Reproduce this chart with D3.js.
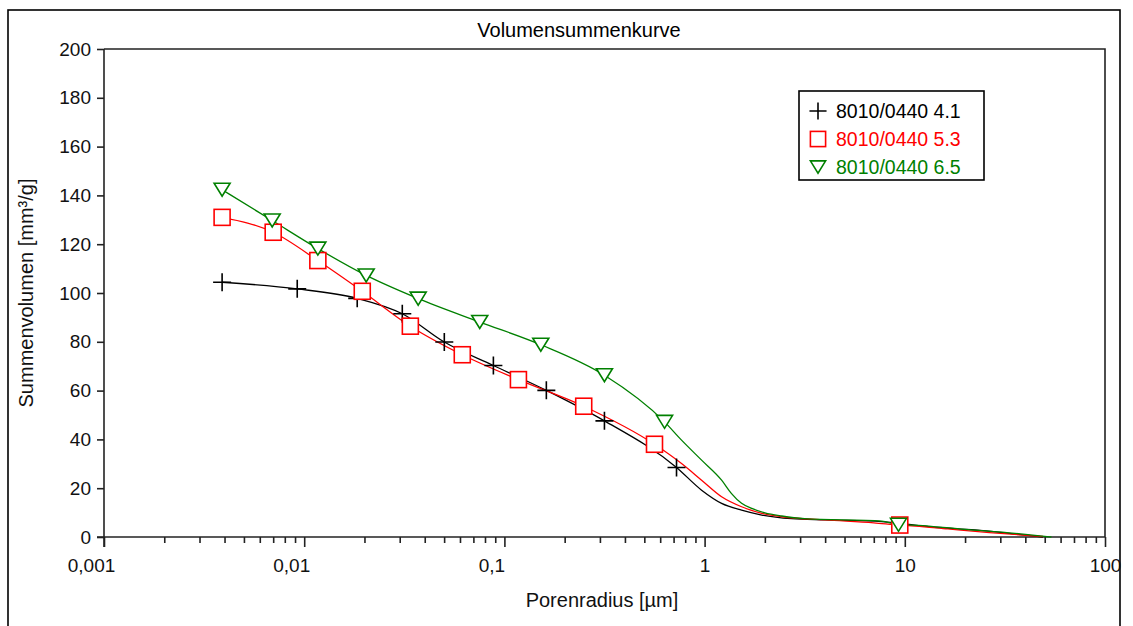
<!DOCTYPE html>
<html><head><meta charset="utf-8">
<script src="https://cdn.jsdelivr.net/npm/d3@7"></script>
<style>
body{margin:0;background:#fff}
svg{display:block}
text{font-family:Arial,"Liberation Sans",sans-serif}
</style>
</head><body>
<svg id="c" width="1133" height="626"></svg>
<script>
// ---------- data ----------
const title = "Volumensummenkurve";
const xLabel = "Porenradius [µm]";
const yLabel = "Summenvolumen [mm³/g]";
const seriesNames = ["8010/0440 4.1", "8010/0440 5.3", "8010/0440 6.5"];
const seriesColors = ["#000000", "#ff0000", "#008000"];
const seriesSymbols = ["plus", "square", "triangle"];

const xTickValues = [0.001, 0.01, 0.1, 1, 10, 100];
const xTickLabels = ["0,001", "0,01", "0,1", "1", "10", "100"];
const yTickValues = [0, 20, 40, 60, 80, 100, 120, 140, 160, 180, 200];

// marker points: [radius µm, volume mm³/g]
const markers41 = [[0.00389,104.4],[0.00923,101.7],[0.0184,97.8],[0.0309,91.5],[0.0501,79.9],[0.0881,70.3],[0.162,60.1],[0.316,47.6],[0.724,28.5]];
const markers53 = [[0.00389,131.0],[0.0070,124.9],[0.0117,113.3],[0.0195,100.7],[0.0339,86.4],[0.0616,74.7],[0.1175,64.5],[0.249,53.6],[0.562,38.0],[9.44,4.9]];
const markers65 = [[0.00389,142.3],[0.00692,129.7],[0.0117,118.2],[0.0204,107.2],[0.0371,97.7],[0.0753,88.1],[0.152,78.8],[0.316,66.3],[0.631,47.2],[9.3,5.0]];

// further curve points without markers
const curve41 = [[0.966,19.2],[1.216,13.8],[1.53,11.0],[1.93,9.0],[2.72,7.5],[4.0,7.0],[7.67,6.3],[14.1,4.0],[22.4,2.9],[35.5,1.2],[49,0]];
const curve53 = [[0.767,30.1],[0.966,23.3],[1.216,16.5],[1.53,12.4],[1.93,9.7],[2.43,8.3],[4.0,7.0],[7.0,5.8],[11.3,4.5],[16.4,3.3],[26.5,1.8],[49,0.2]];
const curve65 = [[0.767,39.7],[0.966,31.5],[1.216,23.3],[1.36,17.9],[1.53,13.8],[1.72,11.7],[2.0,9.9],[2.43,8.6],[3.16,7.5],[7.67,6.5],[10.9,4.9],[19.95,3.1],[35.5,1.5],[54,0]];

const allMarkers = [markers41, markers53, markers65];
const allCurves = [curve41, curve53, curve65];

// ---------- drawing ----------
const svg = d3.select("#c");
const L = 104, R = 1105, T = 49, B = 537;
const x = d3.scaleLog().domain([0.001, 100]).range([L, R]);
const y = d3.scaleLinear().domain([0, 200]).range([B, T]);
const axisColor = "#222";

svg.append("rect").attr("width",1133).attr("height",626).attr("fill","#fff");
// outer frame
svg.append("rect").attr("x",8).attr("y",10).attr("width",1112).attr("height",700)
  .attr("fill","none").attr("stroke","#000").attr("stroke-width",1.6);

// title
svg.append("text").attr("x",579).attr("y",37).attr("text-anchor","middle")
  .attr("font-size",20).attr("fill","#000").text(title);

// plot box (top & right)
svg.append("path").attr("d",`M${L},${T}H${R}V${B}`).attr("fill","none")
  .attr("stroke",axisColor).attr("stroke-width",1.6);

// minor x ticks
const minorVals = [];
for (let e = -3; e < 2; e++) for (let k = 2; k <= 9; k++) minorVals.push(k * Math.pow(10, e));
const gxMinor = svg.append("g").attr("transform",`translate(0,${B})`)
  .call(d3.axisBottom(x).tickValues(minorVals).tickSize(6).tickFormat(""));
const gx = svg.append("g").attr("transform",`translate(0,${B})`)
  .call(d3.axisBottom(x).tickValues(xTickValues).tickSize(10).tickPadding(12)
    .tickFormat((d,i) => xTickLabels[i]));
[gxMinor, gx].forEach(g => {
  g.select(".domain").remove();
  g.selectAll(".tick line").attr("stroke",axisColor).attr("stroke-width",1.6);
});
gx.selectAll(".tick text").attr("font-size",19).attr("fill","#111").attr("font-family","Arial, Liberation Sans, sans-serif")
  .attr("dx", d => d < 1 ? -13 : 0);
svg.append("line").attr("x1",L-7).attr("x2",R).attr("y1",B).attr("y2",B)
  .attr("stroke",axisColor).attr("stroke-width",1.6);

// y axis
const gy = svg.append("g").attr("transform",`translate(${L},0)`)
  .call(d3.axisLeft(y).tickValues(yTickValues).tickSize(7).tickPadding(6).tickFormat(d3.format("d")));
gy.select(".domain").remove();
gy.selectAll(".tick line").attr("stroke",axisColor).attr("stroke-width",1.6);
gy.selectAll(".tick text").attr("font-size",19).attr("fill","#111").attr("font-family","Arial, Liberation Sans, sans-serif");
svg.append("line").attr("x1",L).attr("x2",L).attr("y1",T).attr("y2",B+10)
  .attr("stroke",axisColor).attr("stroke-width",1.6);

// axis labels
svg.append("text").attr("x",602).attr("y",607).attr("text-anchor","middle")
  .attr("font-size",20).attr("fill","#111").text(xLabel);
svg.append("text").attr("transform","translate(33,293) rotate(-90)").attr("text-anchor","middle")
  .attr("font-size",20).attr("fill","#111").text(yLabel);

// lines
const line = d3.line().x(d => x(d[0])).y(d => y(d[1])).curve(d3.curveMonotoneX);
allMarkers.forEach((m, i) => {
  const pts = m.concat(allCurves[i]).sort((a,b) => a[0]-b[0]);
  svg.append("path").attr("d", line(pts)).attr("fill","none")
    .attr("stroke", seriesColors[i]).attr("stroke-width",1.3);
});

// symbols
function symbol(g, type, color, s) {
  if (type === "plus") {
    g.append("path").attr("d",`M${-9*s},0H${9*s}M0,${-9*s}V${9*s}`)
      .attr("stroke",color).attr("stroke-width",1.6).attr("fill","none");
  } else if (type === "square") {
    g.append("rect").attr("x",-8*s).attr("y",-8*s).attr("width",16*s).attr("height",16*s)
      .attr("fill","#fff").attr("stroke",color).attr("stroke-width",1.6);
  } else {
    g.append("path").attr("d",`M${-8*s},${-6.5*s}L${8*s},${-6.5*s}L0,${6.5*s}Z`)
      .attr("fill","#fff").attr("stroke",color).attr("stroke-width",1.6);
  }
}
allMarkers.forEach((m, i) => {
  m.forEach(p => {
    const g = svg.append("g").attr("transform",`translate(${x(p[0])},${y(p[1])})`);
    symbol(g, seriesSymbols[i], seriesColors[i], 1);
  });
});

// legend
const lg = svg.append("g");
lg.append("rect").attr("x",799).attr("y",91).attr("width",185).attr("height",89)
  .attr("fill","#fff").attr("stroke","#000").attr("stroke-width",1.6);
seriesNames.forEach((name, i) => {
  const cy = 111 + i * 28;
  const g = lg.append("g").attr("transform",`translate(818,${cy})`);
  symbol(g, seriesSymbols[i], seriesColors[i], 0.95);
  lg.append("text").attr("x",836).attr("y",cy + 7).attr("font-size",19.5)
    .attr("fill",seriesColors[i]).text(name);
});
</script>
</body></html>
